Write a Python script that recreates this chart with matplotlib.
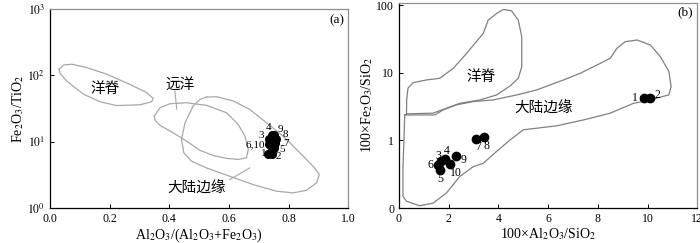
import numpy as np
import matplotlib.pyplot as plt

plt.rcParams['font.family'] = ['Liberation Serif', 'Noto Sans CJK SC']
plt.rcParams['mathtext.fontset'] = 'stix'

# ---- panel (a): Al2O3/(Al2O3+Fe2O3) vs Fe2O3/TiO2 ----
a_x = [0.732, 0.743, 0.735, 0.743, 0.751, 0.735, 0.754, 0.758, 0.751, 0.740]
a_y = [6.6, 6.6, 10.8, 12.4, 8.1, 9.1, 9.6, 11.0, 12.8, 8.5]

ridge_a_x = [0.031, 0.045, 0.073, 0.123, 0.190, 0.268, 0.324, 0.346, 0.341, 0.302, 0.223, 0.168, 0.112, 0.056, 0.034]
ridge_a_y = [123, 143, 147, 131, 104, 73, 55, 45, 40, 36, 35, 40, 52, 82, 107]
pelag_a_x = [0.350, 0.369, 0.402, 0.458, 0.525, 0.592, 0.631, 0.654, 0.665, 0.659, 0.631, 0.592, 0.547, 0.503, 0.458, 0.413, 0.369, 0.352]
pelag_a_y = [24.3, 32.5, 37.3, 38.6, 35.3, 27.3, 18.2, 12.1, 7.6, 5.7, 5.4, 5.6, 6.2, 7.4, 10.2, 13.6, 17.6, 21.1]
cont_a_x = [0.525, 0.559, 0.615, 0.670, 0.726, 0.782, 0.838, 0.888, 0.903, 0.894, 0.860, 0.816, 0.760, 0.682,
            0.603, 0.525, 0.475, 0.449, 0.441, 0.453, 0.480, 0.503]
cont_a_y = [47, 47.6, 41, 30.6, 19.3, 12.1, 6.8, 4.0, 3.19, 2.39, 1.85, 1.69, 1.79, 2.25,
            3.01, 4.02, 5.07, 6.78, 10.8, 19.3, 34.4, 43.4]

# ---- panel (b): 100*Al2O3/SiO2 vs 100*Fe2O3/SiO2 ----
b_x = [9.85, 10.1, 1.71, 1.84, 1.67, 1.57, 3.09, 3.42, 2.31, 2.07]
b_y = [4.2, 4.2, 0.49, 0.53, 0.37, 0.44, 1.06, 1.12, 0.58, 0.45]

ridge_b_x = [0.30, 0.31, 0.36, 0.57, 1.10, 1.64, 2.18, 2.72, 3.39, 3.59, 3.93, 4.20, 4.53, 4.80, 4.94, 4.94,
             4.80, 4.47, 3.93, 3.26, 2.45, 1.91, 1.37]
ridge_b_y = [2.48, 3.99, 5.93, 7.19, 7.88, 8.34, 11.7, 19.5, 38.6, 60.7, 76.2, 87.3, 83.4, 60.7, 34.4, 12.4,
             8.34, 6.43, 4.73, 3.99, 3.56, 3.01, 2.54]
cont_b_x = [0.23, 0.20, 0.16, 0.16, 0.30, 0.83, 1.37, 1.91, 2.45, 2.99, 3.39, 3.93, 4.47, 5.00, 5.54, 6.35,
            7.43, 8.50, 9.44, 10.12, 10.59, 10.86, 10.95, 10.86, 10.52, 10.12, 9.58, 9.11, 8.77, 8.50,
            7.96, 7.29, 6.62, 5.54, 4.74, 3.79, 2.99, 2.31, 1.78, 1.44]
cont_b_y = [2.39, 1.02, 0.41, 0.149, 0.126, 0.108, 0.118, 0.167, 0.294, 0.41, 0.46, 0.69, 1.02, 1.44, 1.52, 1.65,
            2.02, 2.54, 3.56, 3.99, 4.47, 4.73, 6.28, 10.5, 17.4, 25.9, 30.8, 29.1, 23.2, 16.5,
            13.1, 9.9, 7.88, 5.61, 4.73, 3.99, 3.77, 3.37, 2.84, 2.39]

labels = ['1', '2', '3', '4', '5', '6', '7', '8', '9', '10']
# label offsets (points) for each sample
a_off = [(-1, 0, 'right'), (3, -2, 'left'), (-4, 2.5, 'right'), (-2, 5.5, 'center'), (4, -1.2, 'left'),
         (-3, 0, 'right'), (6, -0.5, 'left'), (4.5, 3, 'left'), (3, 4, 'left'), None]
b_off = [(-4, 0, 'right'), (3.5, 2.6, 'left'), (-2.4, 4.1, 'center'), (1.7, 5.5, 'center'), (-0.5, -6.5, 'center'),
         (-5.3, -0.5, 'center'), (1.7, -6, 'center'), (2, -6, 'center'), (5.3, -2.4, 'center'), (4, -6.5, 'center')]

gray_a = '#a8a8a8'
gray_b = '#808080'
zh = ['Noto Sans CJK SC', 'DejaVu Sans']
zh_size = 10.5

fig = plt.figure(figsize=(7, 2.43), dpi=100)
ax1 = fig.add_axes([0.0714, 0.144, 0.426, 0.819])
ax2 = fig.add_axes([0.570, 0.144, 0.426, 0.845])

# panel a
for px, py in [(ridge_a_x, ridge_a_y), (pelag_a_x, pelag_a_y), (cont_a_x, cont_a_y)]:
    ax1.plot(px + px[:1], py + py[:1], color=gray_a, lw=0.9)
ax1.plot(a_x, a_y, 'o', color='black', ms=5.5)
for i, off in enumerate(a_off):
    if off is None:
        continue
    txt = '6,10' if labels[i] == '6' else labels[i]
    ax1.annotate(txt, (a_x[i], a_y[i]), xytext=(off[0], off[1]), textcoords='offset points',
                 ha=off[2], va='center', fontsize=8)
ax1.plot([0.419, 0.425], [58, 31], color=gray_a, lw=0.8)
ax1.plot([0.603, 0.670], [2.68, 4.03], color=gray_a, lw=0.8)
ax1.text(0.184, 63, '洋脊', family=zh, fontsize=zh_size, ha='center', va='center')
ax1.text(0.436, 73, '远洋', family=zh, fontsize=zh_size, ha='center', va='center')
ax1.text(0.492, 1.94, '大陆边缘', family=zh, fontsize=zh_size, ha='center', va='center')
ax1.text(0.961, 686, '(a)', fontsize=9.5, ha='center', va='center')
ax1.set_yscale('log')
ax1.set_xlim(0, 1.0)
ax1.set_ylim(1, 1000)
ax1.set_xticks(np.arange(0, 1.01, 0.2))
ax1.set_xticklabels(['0.0', '0.2', '0.4', '0.6', '0.8', '1.0'])
ax1.set_yticks([1, 10, 100, 1000])
ax1.set_yticklabels(['$10^0$', '$10^1$', '$10^2$', '$10^3$'])
ax1.yaxis.set_minor_locator(plt.NullLocator())
ax1.set_xlabel('Al$_2$O$_3$/(Al$_2$O$_3$+Fe$_2$O$_3$)', fontsize=10, labelpad=1)
ax1.set_ylabel('Fe$_2$O$_3$/TiO$_2$', fontsize=10, labelpad=1)

# panel b
for px, py in [(ridge_b_x, ridge_b_y), (cont_b_x, cont_b_y)]:
    ax2.plot(px + px[:1], py + py[:1], color=gray_b, lw=0.9)
ax2.plot(b_x, b_y, 'o', color='black', ms=6)
for i, off in enumerate(b_off):
    ax2.annotate(labels[i], (b_x[i], b_y[i]), xytext=(off[0], off[1]), textcoords='offset points',
                 ha=off[2], va='center', fontsize=8.5)
ax2.text(3.32, 8.8, '洋脊', family=zh, fontsize=zh_size, ha='center', va='center')
ax2.text(5.81, 3.0, '大陆边缘', family=zh, fontsize=zh_size, ha='center', va='center')
ax2.text(11.53, 78, '(b)', fontsize=9.5, ha='center', va='center')
ax2.set_yscale('log')
ax2.set_xlim(0, 12)
ax2.set_ylim(0.1, 110)
ax2.set_xticks(np.arange(0, 13, 2))
ax2.set_yticks([0.1, 1, 10, 100])
ax2.set_yticklabels(['0', '1', '10', '100'])
ax2.yaxis.set_minor_locator(plt.NullLocator())
ax2.set_xlabel('100×Al$_2$O$_3$/SiO$_2$', fontsize=10, labelpad=1)
ax2.set_ylabel('100×Fe$_2$O$_3$/SiO$_2$', fontsize=10, labelpad=1)

for ax in (ax1, ax2):
    ax.tick_params(direction='in', labelsize=8.5, length=3, width=0.7)
    ax.spines['left'].set_linewidth(0.9)
    ax.spines['bottom'].set_linewidth(0.9)
    for s in ('top', 'right'):
        ax.spines[s].set_color('#909090')
        ax.spines[s].set_linewidth(0.9)

fig.savefig('out.png', dpi=100)
